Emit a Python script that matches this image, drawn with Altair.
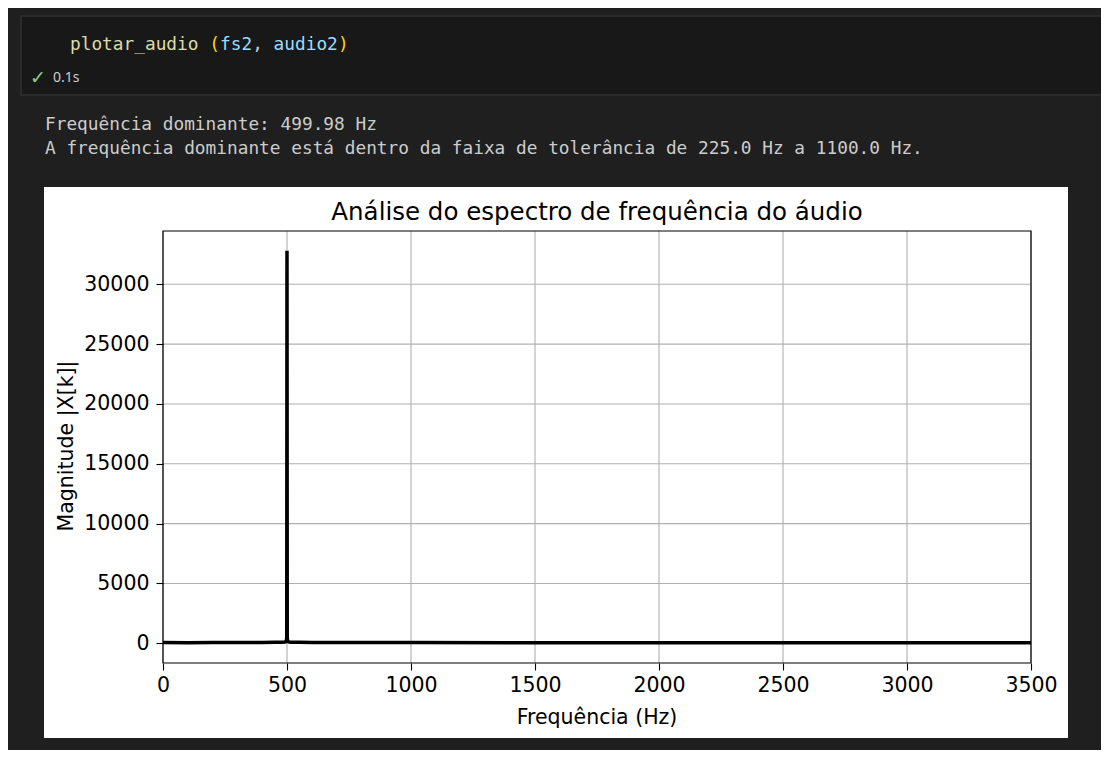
import altair as alt
import pandas as pd

# ---- data ----
freq_hz = [0, 100, 200, 300, 400, 450, 480, 490, 495, 497, 498, 499, 499.98,
           501, 502, 503, 505, 510, 520, 550, 600, 700, 1000, 1500, 2000,
           2500, 3000, 3500]
magnitude = [60, 55, 60, 65, 70, 80, 95, 110, 140, 180, 260, 520, 32800,
             520, 260, 180, 140, 110, 95, 80, 70, 65, 60, 55, 50, 50, 45, 45]
x_ticks = [0, 500, 1000, 1500, 2000, 2500, 3000, 3500]
y_ticks = [0, 5000, 10000, 15000, 20000, 25000, 30000]

title_text = "Análise do espectro de frequência do áudio"
x_title = "Frequência (Hz)"
y_title = "Magnitude |X[k]|"

code_tokens = ["plotar_audio", "(", "fs2", ",", "audio2", ")"]
code_cols = [0, 13, 14, 17, 19, 25]
code_colors = ["#dcdcaa", "#ffd700", "#9cdcfe", "#cccccc", "#9cdcfe", "#ffd700"]
exec_time = "0.1s"
output_lines = [
    "Frequência dominante: 499.98 Hz",
    "A frequência dominante está dentro da faixa de tolerância de 225.0 Hz a 1100.0 Hz.",
]

# ---- layout (page pixels -> plot-relative pixels) ----
PW, PH = 868, 432
OX, OY = 163, 231


def rx(v):
    return v - OX


def ry(v):
    return v - OY


MONO = "DejaVu Sans Mono"
MONO_SIZE = 17.8
CW = 0.602 * MONO_SIZE
SANS = "DejaVu Sans"
LABEL_SIZE = 20.5

xs = alt.Scale(domain=[0, 3500], nice=False, zero=False)
ys = alt.Scale(domain=[-1646, 34450], nice=False, zero=False)

axis_common = dict(
    title=None, grid=False, domain=False, ticks=True, tickSize=7,
    tickColor="black", tickWidth=1.1, labelFontSize=LABEL_SIZE, labelColor="black",
    labelFont=SANS, format="d", zindex=1, labelOverlap=False,
)
X_AXIS = alt.Axis(values=x_ticks, labelPadding=5, labelFlush=False, **axis_common)
Y_AXIS = alt.Axis(values=y_ticks, labelPadding=7, **axis_common)

df = pd.DataFrame({"f": freq_hz, "m": magnitude})

layers = []

# white figure background
layers.append(
    alt.Chart().mark_rect(color="white").encode(
        x=alt.value(rx(44)), x2=alt.value(rx(1068)),
        y=alt.value(ry(187)), y2=alt.value(ry(738)),
    )
)
# notebook code cell box
layers.append(
    alt.Chart().mark_rect(fill="#181818", stroke="#303033", strokeWidth=1.5).encode(
        x=alt.value(rx(21)), x2=alt.value(rx(1130)),
        y=alt.value(ry(16)), y2=alt.value(ry(95)),
    )
)
# code tokens
for tok, col, colr in zip(code_tokens, code_cols, code_colors):
    layers.append(
        alt.Chart().mark_text(text=tok, font=MONO, fontSize=MONO_SIZE, color=colr,
                              align="left", baseline="middle").encode(
            x=alt.value(rx(70) + col * CW), y=alt.value(ry(45)))
    )
# check mark and exec time
layers.append(
    alt.Chart().mark_text(text="✓", font="DejaVu Sans", fontSize=19, color="#89d185",
                          align="center", baseline="middle").encode(
        x=alt.value(rx(38)), y=alt.value(ry(78)))
)
layers.append(
    alt.Chart().mark_text(text=exec_time, font="Noto Sans", fontSize=14, color="#cccccc",
                          align="left", baseline="middle").encode(
        x=alt.value(rx(53)), y=alt.value(ry(78)))
)
# output text
for i, line in enumerate(output_lines):
    layers.append(
        alt.Chart().mark_text(text=line, font=MONO, fontSize=MONO_SIZE, color="#cccccc",
                              align="left", baseline="middle").encode(
            x=alt.value(rx(45)), y=alt.value(ry(125 + 24 * i)))
    )

# grid
layers.append(
    alt.Chart(pd.DataFrame({"f": x_ticks})).mark_rule(color="#b0b0b0", strokeWidth=1.1).encode(
        x=alt.X("f:Q", scale=xs, axis=X_AXIS))
)
layers.append(
    alt.Chart(pd.DataFrame({"m": y_ticks})).mark_rule(color="#b0b0b0", strokeWidth=1.1).encode(
        y=alt.Y("m:Q", scale=ys, axis=Y_AXIS))
)
# spectrum line
layers.append(
    alt.Chart(df).mark_line(color="black", strokeWidth=3.5, clip=True).encode(
        x=alt.X("f:Q", scale=xs, axis=X_AXIS),
        y=alt.Y("m:Q", scale=ys, axis=Y_AXIS),
    )
)
# frame
layers.append(
    alt.Chart().mark_rect(fill=None, stroke="black", strokeWidth=1.2).encode(
        x=alt.value(0), x2=alt.value(PW), y=alt.value(0), y2=alt.value(PH))
)
# titles
layers.append(
    alt.Chart().mark_text(text=title_text, font=SANS, fontSize=24.5, color="black",
                          align="center", baseline="alphabetic").encode(
        x=alt.value(PW / 2), y=alt.value(ry(220)))
)
layers.append(
    alt.Chart().mark_text(text=x_title, font=SANS, fontSize=LABEL_SIZE, color="black",
                          align="center", baseline="middle").encode(
        x=alt.value(PW / 2), y=alt.value(ry(718)))
)
layers.append(
    alt.Chart().mark_text(text=y_title, font=SANS, fontSize=LABEL_SIZE, color="black",
                          align="center", baseline="middle", angle=270).encode(
        x=alt.value(rx(67)), y=alt.value(ry(446)))
)

chart = (
    alt.layer(*layers)
    .properties(
        width=PW, height=PH,
        autosize=alt.AutoSizeParams(type="none"),
        padding={"left": 155, "top": 223, "right": 70, "bottom": 87},
    )
    .configure(background="#1f1f1f")
    .configure_view(stroke=None)
)

chart.save("out.html", embed_options={"renderer": "svg", "actions": False})
